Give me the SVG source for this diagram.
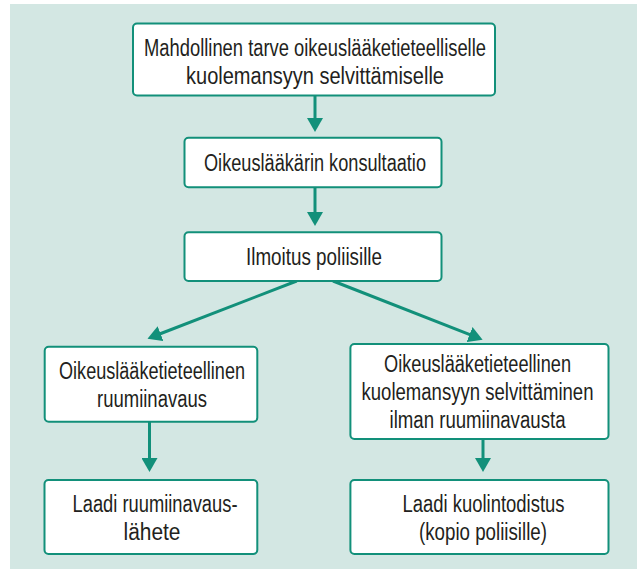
<svg xmlns="http://www.w3.org/2000/svg" width="637" height="569" viewBox="0 0 637 569">
<style>
.bg{fill:#d3e7e3}
.box{fill:#ffffff;stroke:#12907a;stroke-width:2}
.t{font-family:"Liberation Sans",Arial,sans-serif;font-size:23.5px;fill:#231f20;text-anchor:middle}
.c{stroke:#12907a;stroke-width:3;fill:none;marker-end:url(#ah)}
</style>
<defs>
<marker id="ah" viewBox="0 0 14 16" markerUnits="userSpaceOnUse" markerWidth="14" markerHeight="16" refX="1" refY="8" orient="auto">
<path d="M0,0 L14,8 L0,16 z" fill="#12907a"/>
</marker>
</defs>
<rect class="bg" x="10" y="4" width="627" height="565"/>
<g id="connectors">
<line class="c" x1="315" y1="95.5" x2="315" y2="119"/>
<line class="c" x1="315" y1="187.3" x2="315" y2="213"/>
<line class="c" x1="296.7" y1="281" x2="159.6" y2="334"/>
<line class="c" x1="333" y1="281" x2="470.5" y2="334.9"/>
<line class="c" x1="149.5" y1="421.7" x2="149.5" y2="459"/>
<line class="c" x1="483" y1="439" x2="483" y2="459"/>
</g>
<g id="n1">
<rect class="box" x="133" y="23.5" width="362" height="72" rx="4"/>
<text class="t" x="315" y="55.5" textLength="342" lengthAdjust="spacingAndGlyphs">Mahdollinen tarve oikeuslääketieteelliselle</text>
<text class="t" x="315" y="83.5" textLength="258" lengthAdjust="spacingAndGlyphs">kuolemansyyn selvittämiselle</text>
</g>
<g id="n2">
<rect class="box" x="184.5" y="137.7" width="257" height="49.6" rx="4"/>
<text class="t" x="315" y="171" textLength="222" lengthAdjust="spacingAndGlyphs">Oikeuslääkärin konsultaatio</text>
</g>
<g id="n3">
<rect class="box" x="184.5" y="232.3" width="257" height="48.7" rx="4"/>
<text class="t" x="314" y="265" textLength="136" lengthAdjust="spacingAndGlyphs">Ilmoitus poliisille</text>
</g>
<g id="n4">
<rect class="box" x="44.7" y="346.7" width="212.6" height="75" rx="4"/>
<text class="t" x="152" y="378.5" textLength="186" lengthAdjust="spacingAndGlyphs">Oikeuslääketieteellinen</text>
<text class="t" x="152" y="406.5" textLength="110" lengthAdjust="spacingAndGlyphs">ruumiinavaus</text>
</g>
<g id="n5">
<rect class="box" x="350.4" y="344" width="258.1" height="95" rx="4"/>
<text class="t" x="477.5" y="372" textLength="187" lengthAdjust="spacingAndGlyphs">Oikeuslääketieteellinen</text>
<text class="t" x="477.5" y="400" textLength="232" lengthAdjust="spacingAndGlyphs">kuolemansyyn selvittäminen</text>
<text class="t" x="477.5" y="428" textLength="176" lengthAdjust="spacingAndGlyphs">ilman ruumiinavausta</text>
</g>
<g id="n6">
<rect class="box" x="44.5" y="480" width="212.8" height="74" rx="4"/>
<text class="t" x="155" y="511.5" textLength="165" lengthAdjust="spacingAndGlyphs">Laadi ruumiinavaus-</text>
<text class="t" x="152" y="539.5" textLength="57" lengthAdjust="spacingAndGlyphs">lähete</text>
</g>
<g id="n7">
<rect class="box" x="350.4" y="480" width="258.1" height="74" rx="4"/>
<text class="t" x="483.5" y="511.5" textLength="162" lengthAdjust="spacingAndGlyphs">Laadi kuolintodistus</text>
<text class="t" x="483" y="539.5" textLength="128" lengthAdjust="spacingAndGlyphs">(kopio poliisille)</text>
</g>
</svg>
